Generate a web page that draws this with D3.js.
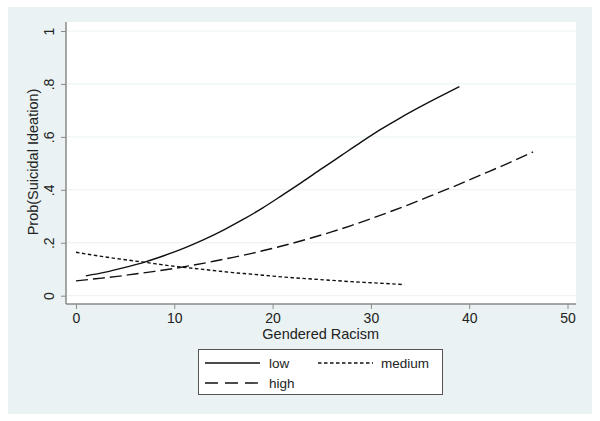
<!DOCTYPE html>
<html>
<head>
<meta charset="utf-8">
<script src="https://cdn.jsdelivr.net/npm/d3@7"></script>
<style>
  body { margin: 0; background: #fff; }
  svg { display: block; font-family: "Liberation Sans", Arial, sans-serif; }
</style>
</head>
<body>
<div id="chart"></div>
<script>
// values
var lowX  = [1, 3, 5, 7, 9, 11, 13, 15, 17, 19, 21, 23, 25, 27, 29, 31, 33, 35, 37, 39];
var lowY  = [0.075, 0.089, 0.107, 0.127, 0.152, 0.180, 0.212, 0.248, 0.288, 0.332,
             0.380, 0.429, 0.480, 0.530, 0.580, 0.628, 0.672, 0.713, 0.752, 0.790];
var medX  = [0, 2, 4, 6, 8, 10, 12, 14, 16, 18, 20, 22, 24, 26, 28, 30, 32, 33.4];
var medY  = [0.164, 0.152, 0.141, 0.131, 0.121, 0.111, 0.103, 0.095, 0.087, 0.081,
             0.074, 0.068, 0.063, 0.058, 0.053, 0.049, 0.045, 0.042];
var highX = [0, 2, 4, 6, 8, 10, 12, 14, 16, 18, 20, 22, 24, 26, 28, 30, 32, 34, 36, 38, 40, 42, 44, 46.5];
var highY = [0.056, 0.064, 0.072, 0.082, 0.092, 0.103, 0.116, 0.130, 0.145, 0.161, 0.179, 0.198,
             0.219, 0.241, 0.265, 0.291, 0.318, 0.346, 0.376, 0.406, 0.437, 0.469, 0.501, 0.543];
var xTicks = [0, 10, 20, 30, 40, 50];
var yTicks = [0, 0.2, 0.4, 0.6, 0.8, 1];
var yTickLabels = ["0", ".2", ".4", ".6", ".8", "1"];

var W = 600, H = 421;
var svg = d3.select("#chart").append("svg").attr("width", W).attr("height", H);

// outer graph region
svg.append("rect").attr("x", 8).attr("y", 7).attr("width", 584).attr("height", 407)
   .attr("fill", "#eaf2f3");
// plot region
svg.append("rect").attr("x", 66).attr("y", 22).attr("width", 510).attr("height", 282)
   .attr("fill", "#fff");

var x = d3.scaleLinear().domain([0, 50]).range([76, 567.5]);
var y = d3.scaleLinear().domain([0, 1]).range([295.7, 31]);

// grid
svg.selectAll(".grid").data(yTicks).enter().append("line")
   .attr("x1", 66).attr("x2", 576)
   .attr("y1", function(d) { return y(d); }).attr("y2", function(d) { return y(d); })
   .attr("stroke", "#eaf2f3").attr("stroke-width", 1);

// axes
var yAxis = d3.axisLeft(y).tickValues(yTicks).tickSize(5).tickPadding(5)
   .tickFormat(function(d, i) { return yTickLabels[i]; });
var gy = svg.append("g").attr("transform", "translate(66,0)").call(yAxis);
gy.select(".domain").attr("d", "M0,22V304").attr("stroke", "#8a8a8a").attr("stroke-width", 1.5);
gy.selectAll(".tick line").attr("stroke", "#8a8a8a").attr("stroke-width", 1);
gy.selectAll(".tick text")
   .attr("font-size", 14).attr("fill", "#222")
   .attr("text-anchor", "middle").attr("dy", null)
   .attr("transform", "translate(-17.5,0) rotate(-90)")
   .attr("x", 0).attr("y", 5);

var xAxis = d3.axisBottom(x).tickValues(xTicks).tickSize(5).tickPadding(4);
var gx = svg.append("g").attr("transform", "translate(0,304)").call(xAxis);
gx.select(".domain").attr("d", "M66,0H576").attr("stroke", "#8a8a8a").attr("stroke-width", 1.5);
gx.selectAll(".tick line").attr("stroke", "#8a8a8a").attr("stroke-width", 1);
gx.selectAll(".tick text").attr("font-size", 14).attr("fill", "#222");

// axis titles
svg.append("text").attr("x", x(25) - 1).attr("y", 339).attr("text-anchor", "middle")
   .attr("font-size", 14.5).attr("fill", "#222").text("Gendered Racism");
svg.append("text").attr("transform", "translate(38,162) rotate(-90)").attr("text-anchor", "middle")
   .attr("font-size", 14.5).attr("fill", "#222").text("Prob(Suicidal Ideation)");

// lines
var line = d3.line().x(function(d) { return x(d[0]); }).y(function(d) { return y(d[1]); })
   .curve(d3.curveMonotoneX);
var series = [
  { name: "low",    xs: lowX,  ys: lowY,  dash: null },
  { name: "medium", xs: medX,  ys: medY,  dash: "3.5,2.5" },
  { name: "high",   xs: highX, ys: highY, dash: "12,5" }
];
series.forEach(function(s) {
  var pts = s.xs.map(function(v, i) { return [v, s.ys[i]]; });
  svg.append("path").datum(pts).attr("d", line)
     .attr("fill", "none").attr("stroke", "#111").attr("stroke-width", 1.4)
     .attr("stroke-dasharray", s.dash);
});

// legend
var lg = svg.append("g");
lg.append("rect").attr("x", 198.5).attr("y", 349.5).attr("width", 244).attr("height", 45)
  .attr("fill", "#fff").attr("stroke", "#555").attr("stroke-width", 1);
var items = [
  { s: series[0], lx1: 205, lx2: 260, tx: 269, ty: 363 },
  { s: series[1], lx1: 318, lx2: 373, tx: 381, ty: 363 },
  { s: series[2], lx1: 205, lx2: 260, tx: 269, ty: 383 }
];
items.forEach(function(it) {
  lg.append("line").attr("x1", it.lx1).attr("x2", it.lx2).attr("y1", it.ty).attr("y2", it.ty)
    .attr("stroke", "#111").attr("stroke-width", 1.4)
    .attr("stroke-dasharray", it.s.name === "high" ? "13,7" : it.s.dash);
  lg.append("text").attr("x", it.tx).attr("y", it.ty + 5).attr("font-size", 13.5)
    .attr("fill", "#222").text(it.s.name);
});
</script>
</body>
</html>
